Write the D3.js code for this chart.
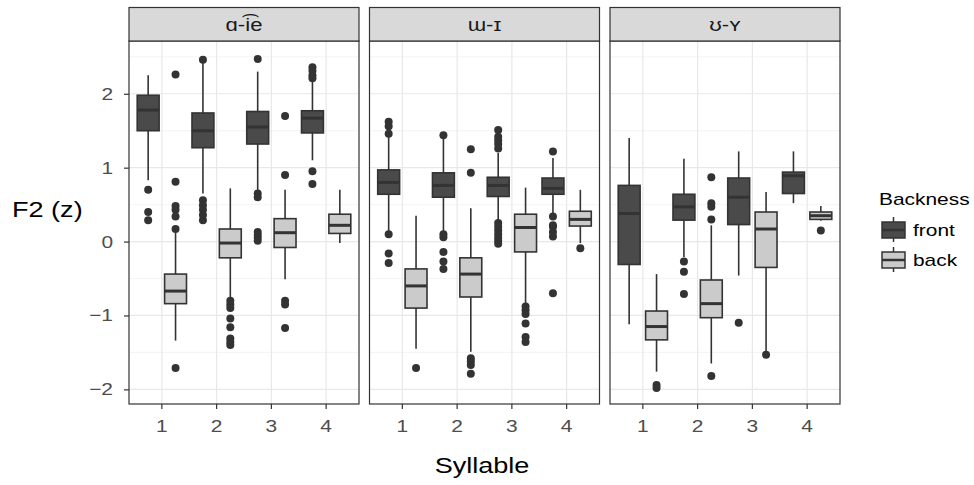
<!DOCTYPE html>
<html>
<head>
<meta charset="utf-8">
<script src="https://cdn.jsdelivr.net/npm/d3@7"></script>
<style>
  html, body { margin: 0; padding: 0; background: #fff; }
  svg { display: block; font-family: "Liberation Sans", Arial, sans-serif; }
</style>
</head>
<body>
<svg id="chart" width="974" height="485"></svg>
<script>
// ---- data ----
const facets = ["ɑ-i͡e", "ɯ-ɪ", "ʊ-ʏ"];
const syllables = ["1", "2", "3", "4"];
const groups = ["front", "back"];
const yTicks = [-2, -1, 0, 1, 2];

// [lower whisker, Q1, median, Q3, upper whisker] per facet, per syllable
const frontStats = [
  [[0.83, 1.50, 1.78, 1.98, 2.25], [0.65, 1.27, 1.50, 1.74, 2.42], [0.67, 1.32, 1.55, 1.76, 2.30], [1.10, 1.47, 1.67, 1.77, 2.18]],
  [[0.13, 0.64, 0.80, 0.97, 1.44], [0.13, 0.60, 0.76, 0.93, 1.40], [0.27, 0.61, 0.76, 0.87, 1.20], [0.38, 0.64, 0.72, 0.86, 1.13]],
  [[-1.12, -0.31, 0.38, 0.76, 1.40], [-0.21, 0.29, 0.47, 0.64, 1.12], [-0.46, 0.23, 0.60, 0.86, 1.22], [0.52, 0.65, 0.89, 0.94, 1.22]]
];
const backStats = [
  [[-1.34, -0.84, -0.67, -0.44, 0.12], [-0.77, -0.22, -0.02, 0.17, 0.72], [-0.51, -0.08, 0.12, 0.31, 0.70], [-0.02, 0.11, 0.22, 0.37, 0.70]],
  [[-1.45, -0.90, -0.60, -0.37, 0.35], [-1.49, -0.75, -0.44, -0.22, 0.45], [-0.86, -0.14, 0.19, 0.37, 0.73], [-0.02, 0.21, 0.30, 0.41, 0.70]],
  [[-1.76, -1.33, -1.15, -0.94, -0.44], [-1.65, -1.03, -0.84, -0.52, 0.22], [-1.50, -0.35, 0.17, 0.40, 0.67], [0.28, 0.30, 0.35, 0.40, 0.48]]
];
const frontOutliers = [
  [[0.70, 0.40, 0.29], [2.46, 0.56, 0.49, 0.43, 0.36, 0.29], [2.47, 0.65, 0.60, 0.13, 0.09, 0.05, 0.01], [2.36, 2.31, 2.25, 2.21, 0.95, 0.78]],
  [[1.62, 1.56, 1.46, 0.10, -0.16, -0.29], [1.44, 0.10, 0.06, -0.14, -0.27, -0.37], [1.51, 1.42, 1.37, 1.32, 1.26, 0.25, 0.20, 0.15, 0.10, 0.05, 0.01, -0.03], [1.22, 0.34, 0.22, 0.20, 0.13, 0.07, -0.70]],
  [[], [-0.27, -0.41, -0.71], [-1.10], []]
];
const backOutliers = [
  [[2.26, 0.81, 0.48, 0.43, 0.34, 0.17, -1.71], [-0.80, -0.85, -0.90, -1.04, -1.16, -1.31, -1.36, -1.40], [1.70, 0.90, -0.80, -0.85, -1.17], []],
  [[-1.71], [1.25, 0.93, -1.58, -1.62, -1.67, -1.79], [-0.88, -0.93, -0.98, -1.11, -1.29, -1.36], [-0.09]],
  [[-1.94, -1.98], [0.87, 0.52, 0.47, 0.30, -1.82], [-1.53], [0.15]]
];

// ---- layout ----
const fillColor = { front: "#4a4a4a", back: "#cbcbcb" };
const dark = "#333333";
const SX = 1.23; // horizontal text stretch of the reference
const panelTop = 41, panelBottom = 404, panelW = 230, panelGap = 10.5, panelLeft0 = 129;
const stripTop = 7.5;

const svg = d3.select("#chart");
const y = d3.scaleLinear().domain([-2.198, 2.714]).range([panelBottom, panelTop]);
const x = d3.scaleBand().domain(syllables).range([0, panelW]).paddingInner(0).paddingOuter(0.1);
const xg = d3.scaleBand().domain(groups).range([0, x.bandwidth()]).paddingInner(0.2).paddingOuter(0.1);
const statsOf = { front: frontStats, back: backStats };
const outOf = { front: frontOutliers, back: backOutliers };

function txt(g, str, tx, ty, size, anchor, color) {
  return g.append("text").attr("transform", `translate(${tx},${ty}) scale(${SX},1)`)
    .attr("text-anchor", anchor).attr("font-size", size).attr("fill", color).text(str);
}

facets.forEach((facet, fi) => {
  const left = panelLeft0 + fi * (panelW + panelGap);
  const g = svg.append("g").attr("transform", `translate(${left},0)`);
  // background
  g.append("rect").attr("x", 0).attr("y", panelTop).attr("width", panelW).attr("height", panelBottom - panelTop).attr("fill", "#fff");
  // minor grid
  const minor = d3.range(-1.5, 2.71, 1);
  g.selectAll(".minor").data(minor).join("line")
    .attr("x1", 0).attr("x2", panelW).attr("y1", d => y(d)).attr("y2", d => y(d))
    .attr("stroke", "#f0f0f0").attr("stroke-width", 0.8);
  g.selectAll(".majy").data(yTicks).join("line")
    .attr("x1", 0).attr("x2", panelW).attr("y1", d => y(d)).attr("y2", d => y(d))
    .attr("stroke", "#e8e8e8").attr("stroke-width", 1.2);
  g.selectAll(".majx").data(syllables).join("line")
    .attr("x1", d => x(d) + x.bandwidth() / 2).attr("x2", d => x(d) + x.bandwidth() / 2)
    .attr("y1", panelTop).attr("y2", panelBottom)
    .attr("stroke", "#e8e8e8").attr("stroke-width", 1.2);

  // boxes
  syllables.forEach((s, si) => {
    groups.forEach(grp => {
      const st = statsOf[grp][fi][si];
      const cx = x(s) + xg(grp) + xg.bandwidth() / 2;
      const bx = x(s) + xg(grp);
      const bw = xg.bandwidth();
      // whiskers
      g.append("line").attr("x1", cx).attr("x2", cx).attr("y1", y(st[4])).attr("y2", y(st[3]))
        .attr("stroke", dark).attr("stroke-width", 1.6);
      g.append("line").attr("x1", cx).attr("x2", cx).attr("y1", y(st[1])).attr("y2", y(st[0]))
        .attr("stroke", dark).attr("stroke-width", 1.6);
      // box
      g.append("rect").attr("x", bx).attr("y", y(st[3])).attr("width", bw)
        .attr("height", Math.max(0.5, y(st[1]) - y(st[3])))
        .attr("fill", fillColor[grp]).attr("stroke", dark).attr("stroke-width", 1.6);
      // median
      g.append("line").attr("x1", bx).attr("x2", bx + bw).attr("y1", y(st[2])).attr("y2", y(st[2]))
        .attr("stroke", dark).attr("stroke-width", 3);
      // outliers
      g.selectAll(null).data(outOf[grp][fi][si]).join("circle")
        .attr("cx", cx).attr("cy", d => y(d)).attr("r", 4).attr("fill", dark);
    });
  });

  // panel border
  g.append("rect").attr("x", 0).attr("y", panelTop).attr("width", panelW).attr("height", panelBottom - panelTop)
    .attr("fill", "none").attr("stroke", dark).attr("stroke-width", 1.2);
  // strip
  g.append("rect").attr("x", 0).attr("y", stripTop).attr("width", panelW).attr("height", panelTop - stripTop)
    .attr("fill", "#d9d9d9").attr("stroke", dark).attr("stroke-width", 1.2);
  txt(g, facet, panelW / 2, 31, 18, "middle", "#1a1a1a");

  // x axis ticks
  const xa = g.append("g").attr("transform", `translate(0,${panelBottom})`)
    .call(d3.axisBottom(x).tickSize(5).tickPadding(0).tickFormat(""));
  xa.select(".domain").remove();
  xa.selectAll(".tick line").attr("stroke", dark).attr("stroke-width", 1.2);
  syllables.forEach(s => txt(g, s, x(s) + x.bandwidth() / 2, 432, 17, "middle", "#4d4d4d"));

  if (fi === 0) {
    const ya = g.append("g").call(d3.axisLeft(y).tickValues(yTicks).tickSize(5).tickFormat(""));
    ya.select(".domain").remove();
    ya.selectAll(".tick line").attr("stroke", dark).attr("stroke-width", 1.2);
    yTicks.forEach(v => txt(g, d3.format("")(v).replace("-", "\u2212"), -16, y(v) + 6, 17, "end", "#4d4d4d"));
  }
});

// axis titles
txt(svg, "Syllable", 482, 473, 22, "middle", "#000");
txt(svg, "F2 (z)", 12, 217, 22, "start", "#000");

// legend
const lg = svg.append("g");
txt(lg, "Backness", 879, 205, 17, "start", "#000");
const keyY = { front: 230, back: 260 };
groups.forEach(grp => {
  const cy = keyY[grp];
  lg.append("line").attr("x1", 893.5).attr("x2", 893.5).attr("y1", cy - 13).attr("y2", cy + 12)
    .attr("stroke", dark).attr("stroke-width", 1.5);
  lg.append("rect").attr("x", 882).attr("y", cy - 8).attr("width", 23).attr("height", 16)
    .attr("fill", fillColor[grp]).attr("stroke", dark).attr("stroke-width", 1.5);
  lg.append("line").attr("x1", 882).attr("x2", 905).attr("y1", cy).attr("y2", cy)
    .attr("stroke", dark).attr("stroke-width", 2.5);
  txt(lg, grp, 913, cy + 6, 17, "start", "#000");
});
</script>
</body>
</html>
